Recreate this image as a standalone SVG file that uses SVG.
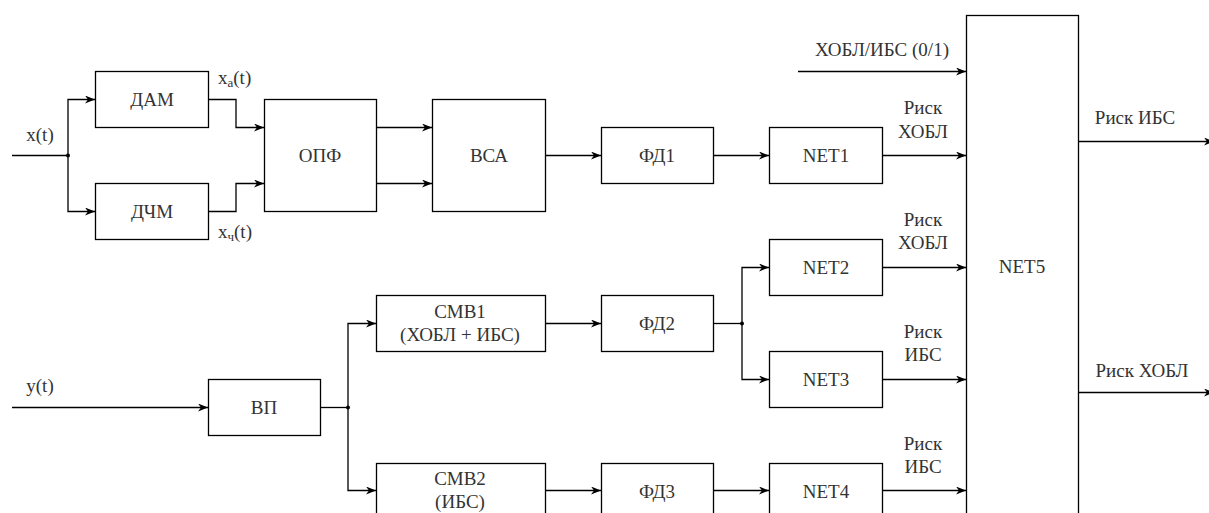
<svg xmlns="http://www.w3.org/2000/svg" width="1209" height="513" viewBox="0 0 1209 513">
<defs>
<marker id="ar" viewBox="0 0 10 8" refX="10" refY="4" markerWidth="10" markerHeight="8" markerUnits="userSpaceOnUse" orient="auto">
<path d="M0,0 L10,4 L0,8 L3,4 Z" fill="#000"/>
</marker>
</defs>
<rect width="1209" height="513" fill="#fff"/>
<g id="connectors" fill="none" stroke="#000" stroke-width="1.3">
<path d="M12,155.5 H68"/>
<path d="M68,155.5 V99.5 H95" marker-end="url(#ar)"/>
<path d="M68,155.5 V211.5 H95" marker-end="url(#ar)"/>
<path d="M208,99.5 H236 V127.5 H264" marker-end="url(#ar)"/>
<path d="M208,211.5 H236 V183.5 H264" marker-end="url(#ar)"/>
<path d="M377,127.5 H432" marker-end="url(#ar)"/>
<path d="M377,183.5 H432" marker-end="url(#ar)"/>
<path d="M545,155.5 H601" marker-end="url(#ar)"/>
<path d="M714,155.5 H769" marker-end="url(#ar)"/>
<path d="M882,155.5 H966" marker-end="url(#ar)"/>
<path d="M798,71.5 H966" marker-end="url(#ar)"/>
<path d="M1078,141.5 H1214" marker-end="url(#ar)"/>
<path d="M1078,392.5 H1214" marker-end="url(#ar)"/>
<path d="M12,407.5 H208" marker-end="url(#ar)"/>
<path d="M321,407.5 H348"/>
<path d="M348,407.5 V323.5 H376" marker-end="url(#ar)"/>
<path d="M348,407.5 V490.5 H376" marker-end="url(#ar)"/>
<path d="M545,323.5 H601" marker-end="url(#ar)"/>
<path d="M714,323.5 H742"/>
<path d="M742,323.5 V267.5 H769" marker-end="url(#ar)"/>
<path d="M742,323.5 V379.5 H769" marker-end="url(#ar)"/>
<path d="M545,490.5 H601" marker-end="url(#ar)"/>
<path d="M714,490.5 H769" marker-end="url(#ar)"/>
<path d="M882,267.5 H966" marker-end="url(#ar)"/>
<path d="M882,379.5 H966" marker-end="url(#ar)"/>
<path d="M882,490.5 H966" marker-end="url(#ar)"/>
<circle cx="68" cy="155.5" r="2" fill="#000" stroke="none"/>
<circle cx="348" cy="407.5" r="2" fill="#000" stroke="none"/>
<circle cx="742" cy="323.5" r="2" fill="#000" stroke="none"/>
</g>
<g id="labels" fill="#333" text-anchor="middle">
<text x="40" y="141" font-family="Liberation Serif" font-size="19">x(t)</text>
<text x="218" y="84" font-family="Liberation Serif" font-size="19" text-anchor="start">x<tspan font-size="13" dy="3">а</tspan><tspan dy="-3">(t)</tspan></text>
<text x="218" y="238" font-family="Liberation Serif" font-size="19" text-anchor="start">x<tspan font-size="13" dy="3">ч</tspan><tspan dy="-3">(t)</tspan></text>
<text x="882" y="56" font-family="Liberation Serif" font-size="19">ХОБЛ/ИБС (0/1)</text>
<text x="923" y="114" font-family="Liberation Serif" font-size="19">Риск</text>
<text x="923" y="138" font-family="Liberation Serif" font-size="19">ХОБЛ</text>
<text x="923" y="226" font-family="Liberation Serif" font-size="19">Риск</text>
<text x="923" y="249" font-family="Liberation Serif" font-size="19">ХОБЛ</text>
<text x="923" y="338" font-family="Liberation Serif" font-size="19">Риск</text>
<text x="923" y="361" font-family="Liberation Serif" font-size="19">ИБС</text>
<text x="923" y="450" font-family="Liberation Serif" font-size="19">Риск</text>
<text x="923" y="473" font-family="Liberation Serif" font-size="19">ИБС</text>
<text x="1135" y="124" font-family="Liberation Serif" font-size="19">Риск ИБС</text>
<text x="1142" y="377" font-family="Liberation Serif" font-size="19">Риск ХОБЛ</text>
<text x="40" y="392" font-family="Liberation Serif" font-size="19">y(t)</text>
</g>
<g id="nodes" stroke-width="1.3">
<g id="n-dam"><rect x="95.5" y="71.5" width="113" height="56" fill="#fff" stroke="#000"/><text x="152" y="106" font-family="Liberation Serif" font-size="19" fill="#333" text-anchor="middle">ДАМ</text></g>
<g id="n-dchm"><rect x="95.5" y="183.5" width="113" height="56" fill="#fff" stroke="#000"/><text x="152" y="218" font-family="Liberation Serif" font-size="19" fill="#333" text-anchor="middle">ДЧМ</text></g>
<g id="n-opf"><rect x="264.5" y="99.5" width="112" height="112" fill="#fff" stroke="#000"/><text x="320" y="162" font-family="Liberation Serif" font-size="19" fill="#333" text-anchor="middle">ОПФ</text></g>
<g id="n-vsa"><rect x="432.5" y="99.5" width="113" height="112" fill="#fff" stroke="#000"/><text x="489" y="162" font-family="Liberation Serif" font-size="19" fill="#333" text-anchor="middle">ВСА</text></g>
<g id="n-fd1"><rect x="601.5" y="127.5" width="112" height="56" fill="#fff" stroke="#000"/><text x="657" y="162" font-family="Liberation Serif" font-size="19" fill="#333" text-anchor="middle">ФД1</text></g>
<g id="n-net1"><rect x="769.5" y="127.5" width="113" height="56" fill="#fff" stroke="#000"/><text x="826" y="162" font-family="Liberation Serif" font-size="19" fill="#333" text-anchor="middle">NET1</text></g>
<g id="n-net5"><rect x="966.5" y="15.5" width="112" height="510" fill="#fff" stroke="#000"/><text x="1022" y="272.5" font-family="Liberation Serif" font-size="19" fill="#333" text-anchor="middle">NET5</text></g>
<g id="n-vp"><rect x="208.5" y="379.5" width="112" height="56" fill="#fff" stroke="#000"/><text x="264" y="414" font-family="Liberation Serif" font-size="19" fill="#333" text-anchor="middle">ВП</text></g>
<g id="n-smv1"><rect x="376.5" y="295.5" width="169" height="56" fill="#fff" stroke="#000"/><text x="460" y="318" font-family="Liberation Serif" font-size="19" fill="#333" text-anchor="middle">СМВ1</text><text x="460" y="341" font-family="Liberation Serif" font-size="19" fill="#333" text-anchor="middle">(ХОБЛ + ИБС)</text></g>
<g id="n-fd2"><rect x="601.5" y="295.5" width="112" height="56" fill="#fff" stroke="#000"/><text x="657" y="330" font-family="Liberation Serif" font-size="19" fill="#333" text-anchor="middle">ФД2</text></g>
<g id="n-net2"><rect x="769.5" y="239.5" width="113" height="56" fill="#fff" stroke="#000"/><text x="826" y="274" font-family="Liberation Serif" font-size="19" fill="#333" text-anchor="middle">NET2</text></g>
<g id="n-net3"><rect x="769.5" y="351.5" width="113" height="56" fill="#fff" stroke="#000"/><text x="826" y="386" font-family="Liberation Serif" font-size="19" fill="#333" text-anchor="middle">NET3</text></g>
<g id="n-smv2"><rect x="376.5" y="463.5" width="169" height="56" fill="#fff" stroke="#000"/><text x="460" y="485" font-family="Liberation Serif" font-size="19" fill="#333" text-anchor="middle">СМВ2</text><text x="460" y="508" font-family="Liberation Serif" font-size="19" fill="#333" text-anchor="middle">(ИБС)</text></g>
<g id="n-fd3"><rect x="601.5" y="463.5" width="112" height="56" fill="#fff" stroke="#000"/><text x="657" y="497.5" font-family="Liberation Serif" font-size="19" fill="#333" text-anchor="middle">ФД3</text></g>
<g id="n-net4"><rect x="769.5" y="463.5" width="113" height="56" fill="#fff" stroke="#000"/><text x="826" y="497.5" font-family="Liberation Serif" font-size="19" fill="#333" text-anchor="middle">NET4</text></g>
</g>
</svg>
